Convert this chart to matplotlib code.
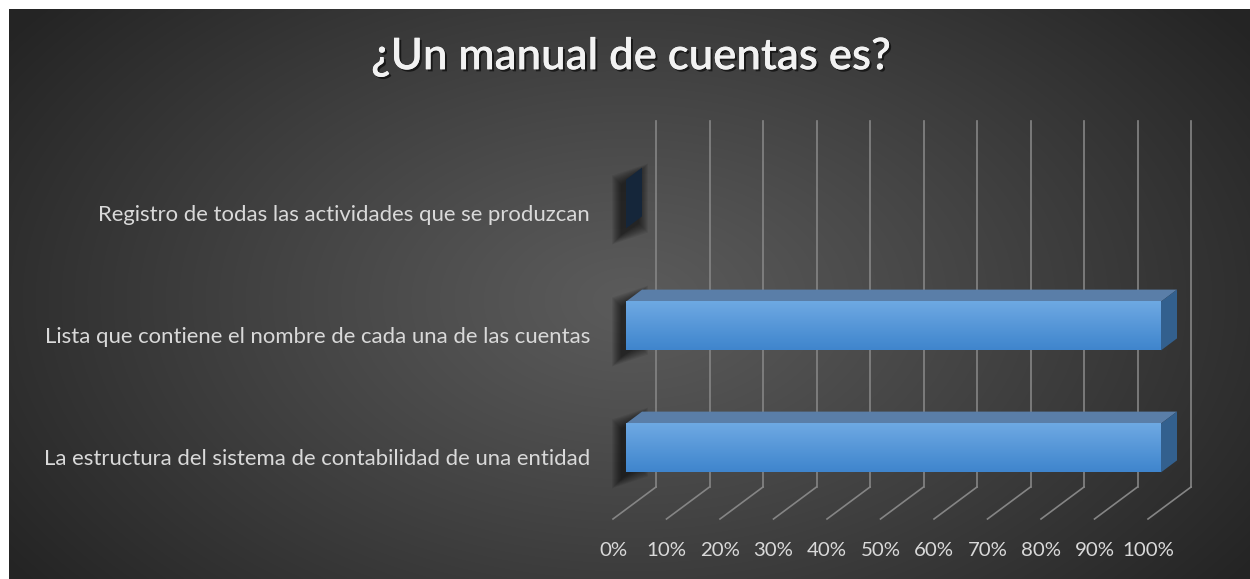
import numpy as np
import matplotlib
matplotlib.use("Agg")
import matplotlib.pyplot as plt
from matplotlib.patches import Polygon
from matplotlib.lines import Line2D
from matplotlib import transforms, patheffects

# ---------------- data ----------------
title = "¿Un manual de cuentas es?"
categories = [
    "La estructura del sistema de contabilidad de una entidad",
    "Lista que contiene el nombre de cada una de las cuentas",
    "Registro de todas las actividades que se produzcan",
]
values = [100, 100, 0]
xticks = [0, 10, 20, 30, 40, 50, 60, 70, 80, 90, 100]
xtick_labels = ["0%", "10%", "20%", "30%", "40%", "50%", "60%", "70%", "80%", "90%", "100%"]

# ---------------- figure ----------------
W, H = 1250, 579
DPI = 100
fig = plt.figure(figsize=(W / DPI, H / DPI), dpi=DPI)
fig.patch.set_facecolor("white")
FONT = "Lato"

# background panel with radial gradient
PX0, PY0 = 9, 9
bg = fig.add_axes([PX0 / W, 0, (W - PX0) / W, (H - PY0) / H])
bg.set_axis_off()
py, px = np.mgrid[PY0:H, PX0:W].astype(float)
cx, cy = 630.0, 300.0
r = np.sqrt(((px - cx) / 760.0) ** 2 + ((py - cy) / 470.0) ** 2)
r = np.clip(r, 0, 1)
c_in, c_out = 0x5b / 255, 0x24 / 255
g = c_in + (c_out - c_in) * r ** 1.1
img = np.dstack([g, g, g])
bg.imshow(img, aspect="auto", extent=(0, 1, 0, 1), origin="upper", interpolation="bilinear")
bg.set_xlim(0, 1)
bg.set_ylim(0, 1)

# main axes = front plane of the 3D bars
FX0, FX1 = 626, 1161
FYB, FYT = 509, 143
ax = fig.add_axes([FX0 / W, (H - FYB) / H, (FX1 - FX0) / W, (FYB - FYT) / H])
ax.set_xlim(0, 100)
ax.set_ylim(-0.5, 2.5)
ax.set_axis_off()
ax.patch.set_alpha(0)

BACK = (30, 22)      # offset of back wall from front plane (px)
FLOOR = (-13, -10)   # offset of floor front edge from front plane (px)
DEP = (16, 12)       # bar depth (px)
BAR_H = 0.4


def disp(x, y, off=(0, 0)):
    p = ax.transData.transform((x, y))
    return (p[0] + off[0], p[1] + off[1])


ident = transforms.IdentityTransform()
grid_col = "#858585"

# gridlines (back wall + floor)
for t in xticks:
    b0 = disp(t, -0.5, BACK)
    b1 = disp(t, 2.5, BACK)
    f0 = disp(t, -0.5, FLOOR)
    ax.add_artist(Line2D([b0[0], b1[0]], [b0[1], b1[1]], color=grid_col, lw=1.2,
                         transform=ident, zorder=1, clip_on=False))
    ax.add_artist(Line2D([f0[0], b0[0]], [f0[1], b0[1]], color=grid_col, lw=1.2,
                         transform=ident, zorder=1, clip_on=False))

# gradient for front faces
grad = np.linspace(0, 1, 64)[:, None]
top_c = np.array([0x6e, 0xa9, 0xe3]) / 255
bot_c = np.array([0x3f, 0x85, 0xcd]) / 255
front_img = top_c[None, None, :] * (1 - grad[..., None]) + bot_c[None, None, :] * grad[..., None]
front_img = np.repeat(front_img, 2, axis=1)

for i, v in enumerate(values):
    y0, y1 = i - BAR_H / 2, i + BAR_H / 2
    # blurred shadow near the bar start
    a = disp(0, y0, (-4, -6))
    b = disp(0, y1, (-4, -6))
    for k in range(10):
        e = 10 - k
        verts = [
            (a[0] - e, a[1] - e),
            (a[0] + DEP[0] + e, a[1] + DEP[1] - e),
            (b[0] + DEP[0] + e, b[1] + DEP[1] + e),
            (b[0] - e, b[1] + e),
        ]
        ax.add_artist(Polygon(verts, closed=True, facecolor="black", edgecolor="none",
                              alpha=0.07, transform=ident, zorder=2, clip_on=False))
    if v > 0:
        # front face
        ax.imshow(front_img, extent=(0, v, y0, y1), aspect="auto", zorder=5,
                  interpolation="bilinear")
        # top face
        top = [disp(0, y1), disp(v, y1), disp(v, y1, DEP), disp(0, y1, DEP)]
        ax.add_artist(Polygon(top, closed=True, facecolor="#5a7ea8", edgecolor="none",
                              transform=ident, zorder=4, clip_on=False))
        # end face
        side = [disp(v, y0), disp(v, y1), disp(v, y1, DEP), disp(v, y0, DEP)]
        ax.add_artist(Polygon(side, closed=True, facecolor="#33608e", edgecolor="none",
                              transform=ident, zorder=4, clip_on=False))
    else:
        cap = [disp(0, y0), disp(0, y1), disp(0, y1, DEP), disp(0, y0, DEP)]
        ax.add_artist(Polygon(cap, closed=True, facecolor="#15263a", edgecolor="none",
                              transform=ident, zorder=4, clip_on=False))

ax.set_xlim(0, 100)
ax.set_ylim(-0.5, 2.5)

# category labels
lab_tr = transforms.offset_copy(ax.transData, fig=fig, x=-36, y=-11, units="dots")
cat_texts = []
for i, c in enumerate(categories):
    t = ax.text(0, i, c, transform=lab_tr, ha="right", va="center", color="#d9d9d9",
                fontsize=14, family=FONT, clip_on=False)
    cat_texts.append(t)

# x tick labels
tick_tr = transforms.offset_copy(ax.transData, fig=fig, x=-13, y=-42, units="dots")
tick_texts = []
for t, s in zip(xticks, xtick_labels):
    tt = ax.text(t, -0.5, s, transform=tick_tr, ha="center", va="center", color="#d9d9d9",
                 fontsize=14, family=FONT, clip_on=False)
    tick_texts.append(tt)

# title
ttl = fig.text(631 / W, 1 - 57 / H, title, ha="center", va="center", color="#f2f2f2",
               fontsize=26, weight="semibold", family=FONT,
               path_effects=[patheffects.withSimplePatchShadow(offset=(1.5, -1.5),
                                                               shadow_rgbFace="black", alpha=0.6),
                             patheffects.Normal()])

# fit font sizes to the reference widths
fig.canvas.draw()
rend = fig.canvas.get_renderer()


def fit(texts, idx, target):
    w = texts[idx].get_window_extent(rend).width
    s = texts[0].get_fontsize() * target / w
    for t in texts:
        t.set_fontsize(s)


fit(cat_texts, 2, 493)
fit(tick_texts, 10, 52)
fit([ttl], 0, 520)

fig.savefig("out.png", dpi=DPI, facecolor="white")
